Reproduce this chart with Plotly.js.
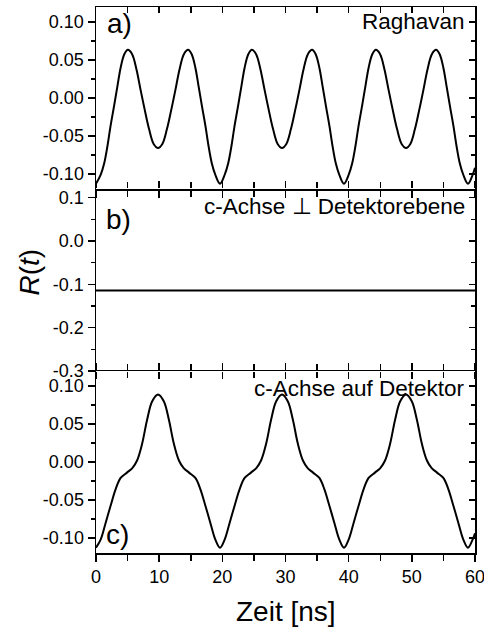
<!DOCTYPE html>
<html>
<head>
<meta charset="utf-8">
<script src="https://cdn.plot.ly/plotly-3.0.1.min.js"></script>
<style>
  html, body { margin: 0; padding: 0; background: #fff; }
  #chart { width: 484px; height: 629px; }
</style>
</head>
<body>
<div id="chart"></div>
<script>
// ---- Data ----
// Panel a) Raghavan
const tA = [0, 0.75, 1.3, 1.8, 2.3, 2.85, 3.4, 3.9, 4.5, 5.05, 5.7, 6.4, 7.05, 7.7, 8.4, 9.15, 9.82,
  10.48, 11.23, 11.93, 12.58, 13.23, 13.93, 14.58, 15.13, 15.73, 16.23, 16.78, 17.33, 17.83, 18.33, 18.88,
  19.63, 20.38, 20.93, 21.43, 21.93, 22.48, 23.03, 23.53, 24.13, 24.68, 25.33, 26.03, 26.68, 27.33, 28.03, 28.78, 29.45,
  30.11, 30.86, 31.56, 32.21, 32.86, 33.56, 34.21, 34.76, 35.36, 35.86, 36.41, 36.96, 37.46, 37.96, 38.51,
  39.26, 40.01, 40.56, 41.06, 41.56, 42.11, 42.66, 43.16, 43.76, 44.31, 44.96, 45.66, 46.31, 46.96, 47.66, 48.41, 49.08,
  49.74, 50.49, 51.19, 51.84, 52.49, 53.19, 53.84, 54.39, 54.99, 55.49, 56.04, 56.59, 57.09, 57.59, 58.14,
  58.89, 59.64, 60];
const rA = [-0.113, -0.101, -0.086, -0.064, -0.037, -0.011, 0.016, 0.040, 0.058, 0.0635, 0.058, 0.038, 0.011, -0.015, -0.041, -0.061, -0.066,
  -0.061, -0.041, -0.015, 0.011, 0.038, 0.058, 0.0635, 0.058, 0.040, 0.016, -0.011, -0.037, -0.064, -0.086, -0.101,
  -0.113, -0.101, -0.086, -0.064, -0.037, -0.011, 0.016, 0.040, 0.058, 0.0635, 0.058, 0.038, 0.011, -0.015, -0.041, -0.061, -0.066,
  -0.061, -0.041, -0.015, 0.011, 0.038, 0.058, 0.0635, 0.058, 0.040, 0.016, -0.011, -0.037, -0.064, -0.086, -0.101,
  -0.113, -0.101, -0.086, -0.064, -0.037, -0.011, 0.016, 0.040, 0.058, 0.0635, 0.058, 0.038, 0.011, -0.015, -0.041, -0.061, -0.066,
  -0.061, -0.041, -0.015, 0.011, 0.038, 0.058, 0.0635, 0.058, 0.040, 0.016, -0.011, -0.037, -0.064, -0.086, -0.101,
  -0.113, -0.101, -0.092];

// Panel b) c-Achse ⊥ Detektorebene (constant)
const tB = [0, 60];
const rB = [-0.114, -0.114];

// Panel c) c-Achse auf Detektor
const tC = [0, 0.75, 1.5, 2.3, 3.1, 3.9, 4.9, 5.75, 6.5, 7.3, 8.1, 8.9, 9.82,
  10.73, 11.53, 12.33, 13.13, 13.88, 14.73, 15.73, 16.53, 17.33, 18.13, 18.88,
  19.63, 20.38, 21.13, 21.93, 22.73, 23.53, 24.53, 25.38, 26.13, 26.93, 27.73, 28.53, 29.45,
  30.36, 31.16, 31.96, 32.76, 33.51, 34.36, 35.36, 36.16, 36.96, 37.76, 38.51,
  39.26, 40.01, 40.76, 41.56, 42.36, 43.16, 44.16, 45.01, 45.76, 46.56, 47.36, 48.16, 49.08,
  49.99, 50.79, 51.59, 52.39, 53.14, 53.99, 54.99, 55.79, 56.59, 57.39, 58.14,
  58.89, 59.64, 60];
const rC = [-0.113, -0.102, -0.081, -0.058, -0.036, -0.021, -0.014, -0.008, 0.002, 0.024, 0.056, 0.080, 0.089,
  0.080, 0.056, 0.024, 0.002, -0.008, -0.014, -0.021, -0.036, -0.058, -0.081, -0.102,
  -0.113, -0.102, -0.081, -0.058, -0.036, -0.021, -0.014, -0.008, 0.002, 0.024, 0.056, 0.080, 0.089,
  0.080, 0.056, 0.024, 0.002, -0.008, -0.014, -0.021, -0.036, -0.058, -0.081, -0.102,
  -0.113, -0.102, -0.081, -0.058, -0.036, -0.021, -0.014, -0.008, 0.002, 0.024, 0.056, 0.080, 0.089,
  0.080, 0.056, 0.024, 0.002, -0.008, -0.014, -0.021, -0.036, -0.058, -0.081, -0.102,
  -0.113, -0.102, -0.094];

// Tick labels
const tickValsAC = [-0.10, -0.05, 0.00, 0.05, 0.10];
const tickTextAC = ['-0.10', '-0.05', '0.00', '0.05', '0.10'];
const tickValsB = [-0.3, -0.2, -0.1, 0.0, 0.1];
const tickTextB = ['-0.3', '-0.2', '-0.1', '0.0', '0.1'];
const panelLabels = ['a)', 'b)', 'c)'];
const panelTitles = ['Raghavan', 'c-Achse \u22A5 Detektorebene', 'c-Achse auf Detektor'];
const xTitle = 'Zeit [ns]';
const yTitle = '<i>R</i>(<i>t</i>)';

// ---- Styling ----
const FONT = 'Liberation Sans, Arial, sans-serif';
const BLACK = '#000000';
const lineStyle = { color: BLACK, width: 2, shape: 'spline', smoothing: 1 };

const traces = [
  { x: tA, y: rA, xaxis: 'x3', yaxis: 'y3', mode: 'lines', line: lineStyle, showlegend: false, hoverinfo: 'skip' },
  { x: tB, y: rB, xaxis: 'x2', yaxis: 'y2', mode: 'lines', line: { color: BLACK, width: 2 }, showlegend: false, hoverinfo: 'skip' },
  { x: tC, y: rC, xaxis: 'x', yaxis: 'y', mode: 'lines', line: lineStyle, showlegend: false, hoverinfo: 'skip' },
  // empty helper traces so the overlay (inside-tick) axes are drawn
  { x: [], y: [], xaxis: 'x', yaxis: 'y4', showlegend: false, hoverinfo: 'skip' },
  { x: [], y: [], xaxis: 'x2', yaxis: 'y5', showlegend: false, hoverinfo: 'skip' },
  { x: [], y: [], xaxis: 'x3', yaxis: 'y6', showlegend: false, hoverinfo: 'skip' },
  { x: [], y: [], xaxis: 'x4', yaxis: 'y3', showlegend: false, hoverinfo: 'skip' }
];

const tickFont = { family: FONT, size: 18, color: BLACK };

function xAxis(anchor, labels, mirror, showline) {
  return {
    anchor: anchor, domain: [0, 1], range: [0, 60],
    tickmode: 'linear', tick0: 0, dtick: 10,
    ticks: 'outside', ticklen: 7, tickwidth: 1.5, tickcolor: BLACK,
    minor: { tickmode: 'linear', tick0: 0, dtick: 5, ticks: 'outside', ticklen: 6, tickwidth: 1.5, tickcolor: BLACK },
    showline: showline, linecolor: BLACK, linewidth: 1.5, mirror: mirror,
    showgrid: false, zeroline: false,
    showticklabels: labels, tickfont: tickFont, ticklabeloverflow: 'allow', fixedrange: true
  };
}

function yAxis(anchor, domain, range, vals, text, minorD) {
  return {
    anchor: anchor, domain: domain, range: range,
    tickmode: 'array', tickvals: vals, ticktext: text,
    ticks: 'outside', ticklen: 7, tickwidth: 1.5, tickcolor: BLACK,
    minor: { tickmode: 'linear', tick0: 0, dtick: minorD, ticks: 'outside', ticklen: 4, tickwidth: 1.5, tickcolor: BLACK },
    showline: true, linecolor: BLACK, linewidth: 1.5, mirror: true,
    showgrid: false, zeroline: false,
    tickfont: tickFont, ticklabeloverflow: 'allow', fixedrange: true
  };
}

function yRight(anchor, overlay, range, vals, minorD) {
  return {
    anchor: anchor, overlaying: overlay, side: 'right', range: range,
    tickmode: 'array', tickvals: vals,
    ticks: 'inside', ticklen: 6, tickwidth: 1.5, tickcolor: BLACK,
    minor: { tickmode: 'linear', tick0: 0, dtick: minorD, ticks: 'inside', ticklen: 4, tickwidth: 1.5, tickcolor: BLACK },
    showline: false, showgrid: false, zeroline: false,
    showticklabels: false, fixedrange: true
  };
}

const dC = [0, 1 / 3], dB = [1 / 3, 2 / 3], dA = [2 / 3, 1];
const rngAC = [-0.12, 0.12], rngB = [-0.3, 0.12];

const annFont = { family: FONT, size: 22.5, color: BLACK };
const labFont = { family: FONT, size: 28, color: BLACK };

const layout = {
  width: 484, height: 629,
  margin: { l: 96, r: 9, t: 7, b: 76, pad: 0 },
  paper_bgcolor: '#ffffff', plot_bgcolor: 'rgba(0,0,0,0)',
  showlegend: false,
  xaxis: xAxis('y', true, 'ticks', true),
  xaxis2: xAxis('y2', false, 'ticks', false),
  xaxis3: xAxis('y3', false, true, true),
  xaxis4: {
    anchor: 'y3', overlaying: 'x3', side: 'top', range: [0, 60],
    tickmode: 'linear', tick0: 0, dtick: 10,
    ticks: 'inside', ticklen: 6, tickwidth: 1.5, tickcolor: BLACK,
    minor: { tickmode: 'linear', tick0: 0, dtick: 5, ticks: 'inside', ticklen: 6, tickwidth: 1.5, tickcolor: BLACK },
    showline: false, showgrid: false, zeroline: false, showticklabels: false, fixedrange: true
  },
  yaxis: yAxis('x', dC, rngAC, tickValsAC, tickTextAC, 0.025),
  yaxis2: yAxis('x2', dB, rngB, tickValsB, tickTextB, 0.05),
  yaxis3: yAxis('x3', dA, rngAC, tickValsAC, tickTextAC, 0.025),
  yaxis4: yRight('x', 'y', rngAC, tickValsAC, 0.025),
  yaxis5: yRight('x2', 'y2', rngB, tickValsB, 0.05),
  yaxis6: yRight('x3', 'y3', rngAC, tickValsAC, 0.025),
  annotations: [
    { text: panelLabels[0], xref: 'paper', yref: 'paper', x: 0.0607, y: 0.969, xanchor: 'center', yanchor: 'middle', showarrow: false, font: labFont },
    { text: panelLabels[1], xref: 'paper', yref: 'paper', x: 0.0594, y: 0.6117, xanchor: 'center', yanchor: 'middle', showarrow: false, font: labFont },
    { text: panelLabels[2], xref: 'paper', yref: 'paper', x: 0.058, y: 0.033, xanchor: 'center', yanchor: 'middle', showarrow: false, font: labFont },
    { text: panelTitles[0], xref: 'paper', yref: 'paper', x: 0.979, y: 0.9735, xanchor: 'right', yanchor: 'middle', showarrow: false, font: annFont },
    { text: panelTitles[1], xref: 'paper', yref: 'paper', x: 0.979, y: 0.6346, xanchor: 'right', yanchor: 'middle', showarrow: false, font: annFont },
    { text: panelTitles[2], xref: 'paper', yref: 'paper', x: 0.979, y: 0.3016, xanchor: 'right', yanchor: 'middle', showarrow: false, font: annFont },
    { text: yTitle, xref: 'paper', yref: 'paper', x: -0.1768, y: 0.5156, xanchor: 'center', yanchor: 'middle', textangle: -90, showarrow: false, font: { family: FONT, size: 28, color: BLACK } },
    { text: xTitle, xref: 'paper', yref: 'paper', x: 0.5, y: -0.108, xanchor: 'center', yanchor: 'middle', showarrow: false, font: { family: FONT, size: 28, color: BLACK } }
  ]
};

Plotly.newPlot('chart', traces, layout, { staticPlot: true, displayModeBar: false });
</script>
</body>
</html>
